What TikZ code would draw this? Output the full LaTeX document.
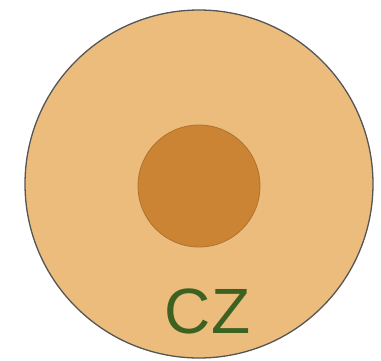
\documentclass[tikz,border=0pt]{standalone}
\usepackage{fontspec}
\setmainfont{Liberation Sans}
\definecolor{outerfill}{HTML}{EBBC7C}
\definecolor{outerline}{HTML}{555555}
\definecolor{innerfill}{HTML}{CB8334}
\definecolor{innerline}{HTML}{B0732E}
\definecolor{textgreen}{HTML}{3D6120}
\begin{document}
\begin{tikzpicture}[x=1pt,y=-1pt,
  outerc/.style={circle,draw=outerline,fill=outerfill,line width=1.3pt,minimum size=348pt,inner sep=0pt},
  innerc/.style={circle,draw=innerline,fill=innerfill,line width=0.8pt,minimum size=122pt,inner sep=0pt},
  lbl/.style={text=textgreen,font=\fontsize{64}{64}\selectfont,inner sep=0pt}]
\useasboundingbox (0,0) rectangle (381,360);
\node[outerc] (outer) at (199,184) {};
\node[innerc] (inner) at (199,186) {};
\node[lbl,anchor=base] (cz) at (207.5,333) {CZ};
\end{tikzpicture}
\end{document}
